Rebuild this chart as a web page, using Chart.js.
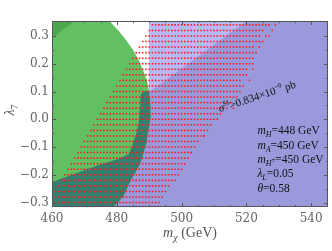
<!DOCTYPE html>
<html>
<head>
<meta charset="utf-8">
<script src="https://cdn.jsdelivr.net/npm/chart.js@4.4.1/dist/chart.umd.min.js"></script>
<style>
  html, body { margin: 0; background: #fff; }
</style>
</head>
<body>
<canvas id="c" width="332" height="251"></canvas>
<script>
/* m_chi vs lambda_7 scan: allowed regions + red scan points */

const X_MIN = 460, X_MAX = 545.2;
const Y_MIN = -0.316, Y_MAX = 0.354;
const xTicks = [460, 480, 500, 520, 540];
const xMinor = [465, 470, 475, 485, 490, 495, 505, 510, 515, 525, 530, 535, 545];
const yTicks = [-0.3, -0.2, -0.1, 0, 0.1, 0.2, 0.3];
const yMinor = [-0.25, -0.15, -0.05, 0.05, 0.15, 0.25];

// green disk (upper / lower edges)
const greenTop = [[460, 0.45], [477.7, 0.354], [480.5, 0.32], [482.9, 0.285], [485, 0.25], [486.8, 0.213],
  [488.2, 0.175], [489.3, 0.141], [489.9, 0.105], [490.3, 0.06], [490.5, 0.01]];
const greenBottom = [[460, -0.45], [477.5, -0.33], [478.9, -0.316], [480.7, -0.295], [482.3, -0.272],
  [484.4, -0.218], [486.8, -0.17], [487.9, -0.136], [489.2, -0.08], [489.9, -0.03], [490.5, 0.01]];
// darker green corner
const cornerTop = [[460, 0.45], [468, 0.45]];
const cornerBottom = [[460, 0.293], [467, 0.354], [468, 0.37]];
// blue band edge (everything below / right of it)
const blueEdge = [[460, -0.226], [467, -0.196], [474.6, -0.164], [480, -0.145], [483.8, -0.125], [485.8, -0.06],
  [486.8, -0.01], [487.4, 0.09], [488.5, 0.1], [490.3, 0.102], [494.8, 0.138], [520, 0.354], [530, 0.44], [546, 0.6]];
// overlap of green disk and blue band
const tealTop = [[460, -0.226], [467, -0.196], [474.6, -0.164], [480, -0.145], [483.8, -0.125], [485.8, -0.06],
  [486.8, -0.01], [487.4, 0.09], [488.5, 0.1], [489.9, 0.102], [490.3, 0.06], [490.5, 0.01]];
// light lavender strip, right of m = 489.9
const lavenderTop = [[489.9, 0.45], [546, 0.45]];

// red scan points: rows of lambda_7, first and last m_chi in each row
const dotRowY = [0.34, 0.32, 0.30, 0.28, 0.26, 0.24, 0.22, 0.20, 0.18, 0.16, 0.14, 0.12, 0.10, 0.08, 0.06, 0.04, 0.02,
  0.00, -0.02, -0.04, -0.06, -0.08, -0.10, -0.12, -0.14, -0.16, -0.18, -0.20, -0.22, -0.24, -0.26, -0.28, -0.30];
const dotRowStart = [491, 490, 489, 488, 487, 486, 485, 484, 483, 482, 481, 480, 479, 478, 477, 476, 475,
  474, 473, 472, 471, 470, 469, 468, 467, 466, 465, 464, 463, 462, 461, 460, 460];
const dotRowEnd = [527, 525, 524, 525, 522, 523, 522, 521, 520, 520, 518, 519, 517, 517, 515, 514, 512,
  511, 509, 508, 507, 505, 504, 503, 502, 501, 500, 499, 498, 496, 495, 494, 493];
const dotStray = [[529, 0.34], [528, 0.32], [526, 0.30], [527, 0.30], [524, 0.26], [522, 0.20], [522, 0.18],
  [521, 0.14], [518, 0.10], [516, 0.04], [507, -0.06], [503, -0.12]];
const DOT_STEP = 1;

const pts = (arr) => arr.map(([x, y]) => ({ x, y }));
const dots = [];
dotRowY.forEach((y, i) => {
  for (let m = dotRowStart[i]; m <= dotRowEnd[i]; m += DOT_STEP) dots.push({ x: m, y });
});
dotStray.forEach(([x, y]) => dots.push({ x, y }));

const area = (data, color, fill, order) => ({
  type: "line", data: pts(data), backgroundColor: color, borderColor: "transparent", borderWidth: 0,
  pointRadius: 0, fill, order, tension: 0,
});

/* rich text: runs of [text, italic, scale, dy] */
const SERIF = "'Liberation Serif', 'DejaVu Serif', serif";
function richWidth(ctx, runs, size) {
  let w = 0;
  for (const [t, it, sc] of runs) {
    ctx.font = `${it ? "italic " : ""}${size * sc}px ${SERIF}`;
    w += ctx.measureText(t).width;
  }
  return w;
}
function drawRich(ctx, runs, x, y, size) {
  let cx = x;
  for (const [t, it, sc, dy] of runs) {
    ctx.font = `${it ? "italic " : ""}${size * sc}px ${SERIF}`;
    ctx.fillText(t, cx, y + dy * size);
    cx += ctx.measureText(t).width;
  }
}

const xTitle = [["m", 1, 1, 0], ["χ", 1, 0.72, 0.28], [" (GeV)", 0, 1, 0]];
const yTitle = [["λ", 1, 1, 0], ["7", 0, 0.72, 0.28]];
const sigmaText = [["σ", 1, 1, 0], ["SI", 0, 0.62, -0.42], [">0.834×10", 0, 1, 0], ["−9", 0, 0.62, -0.42], [" pb", 0, 1, 0]];
const paramLines = [
  [["m", 1, 1, 0], ["H", 1, 0.7, 0.25], ["=448 GeV", 0, 1, 0]],
  [["m", 1, 1, 0], ["A", 1, 0.7, 0.25], ["=450 GeV", 0, 1, 0]],
  [["m", 1, 1, 0], ["H", 1, 0.7, 0.25], ["±", 0, 0.6, -0.05], ["=450 GeV", 0, 1, 0]],
  [["λ", 1, 1, 0], ["L", 1, 0.7, 0.25], ["=0.05", 0, 1, 0]],
  [["θ", 1, 1, 0], ["=0.58", 0, 1, 0]],
];

const framePlugin = {
  id: "frame",
  afterDatasetsDraw(chart) {
    const { ctx, chartArea: a, scales: { x, y } } = chart;
    ctx.save();
    ctx.strokeStyle = "#555";
    ctx.lineWidth = 1;
    ctx.strokeRect(Math.round(a.left) + 0.5, Math.round(a.top) + 0.5, Math.round(a.right - a.left) - 1, Math.round(a.bottom - a.top) - 1);
    ctx.beginPath();
    const tx = (v, len) => {
      const p = Math.round(x.getPixelForValue(v)) + 0.5;
      ctx.moveTo(p, a.bottom); ctx.lineTo(p, a.bottom - len);
      ctx.moveTo(p, a.top); ctx.lineTo(p, a.top + len);
    };
    const ty = (v, len) => {
      const p = Math.round(y.getPixelForValue(v)) + 0.5;
      ctx.moveTo(a.left, p); ctx.lineTo(a.left + len, p);
      ctx.moveTo(a.right, p); ctx.lineTo(a.right - len, p);
    };
    xTicks.forEach((v) => tx(v, 4));
    xMinor.forEach((v) => tx(v, 2));
    yTicks.forEach((v) => ty(v, 4));
    yMinor.forEach((v) => ty(v, 2));
    ctx.stroke();

    // axis titles
    ctx.fillStyle = "#555";
    ctx.textBaseline = "alphabetic";
    const cxm = (a.left + a.right) / 2;
    drawRich(ctx, xTitle, cxm - richWidth(ctx, xTitle, 14) / 2, 237, 14);
    ctx.save();
    ctx.translate(14, 110);
    ctx.rotate(-Math.PI / 2);
    drawRich(ctx, yTitle, -richWidth(ctx, yTitle, 14) / 2, 0, 14);
    ctx.restore();

    // cross-section label
    ctx.fillStyle = "#111";
    ctx.save();
    ctx.translate(x.getPixelForValue(511.8), y.getPixelForValue(0.026));
    ctx.rotate(-17.8 * Math.PI / 180);
    drawRich(ctx, sigmaText, 0, 0, 11);
    ctx.restore();

    // benchmark parameters
    const px = x.getPixelForValue(523.4);
    const base = [-0.053, -0.107, -0.157, -0.208, -0.262];
    paramLines.forEach((runs, i) => drawRich(ctx, runs, px, y.getPixelForValue(base[i]), 11.5));
    ctx.restore();
  },
};

new Chart(document.getElementById("c"), {
  type: "scatter",
  data: {
    datasets: [
      { type: "scatter", data: dots, backgroundColor: "#ff1a1a", borderWidth: 0, pointStyle: "rect", pointRadius: 1.1, order: 0 },
      area(cornerTop, "#4fa84f", "+1", 1),
      area(cornerBottom, "transparent", false, 2),
      area(tealTop, "#347f70", 5, 3),
      area(greenTop, "#62c062", "+1", 4),
      area(greenBottom, "transparent", false, 5),
      area(blueEdge, "#9999dc", "start", 6),
      area(lavenderTop, "#b8b8f4", "start", 7),
    ],
  },
  options: {
    responsive: false,
    animation: false,
    events: [],
    layout: { padding: { top: 21, right: 1, left: 0, bottom: 0 } },
    plugins: { legend: { display: false }, tooltip: { enabled: false } },
    scales: {
      x: {
        type: "linear", min: X_MIN, max: X_MAX,
        afterBuildTicks: (s) => { s.ticks = xTicks.map((v) => ({ value: v })); },
        afterFit: (s) => { s.height = 44; },
        grid: { display: false, drawTicks: false },
        border: { display: false },
        ticks: { padding: 5, color: "#666", font: { family: "DejaVu Serif", size: 12 }, callback: (v) => String(v) },
      },
      y: {
        type: "linear", min: Y_MIN, max: Y_MAX,
        afterBuildTicks: (s) => { s.ticks = yTicks.map((v) => ({ value: v })); },
        afterFit: (s) => { s.width = 52; },
        grid: { display: false, drawTicks: false },
        border: { display: false },
        ticks: { padding: 3, color: "#666", font: { family: "DejaVu Serif", size: 12 },
          callback: (v) => (v < 0 ? "\u2212" : "") + Math.abs(v).toFixed(1) },
      },
    },
  },
  plugins: [framePlugin],
});
</script>
</body>
</html>
